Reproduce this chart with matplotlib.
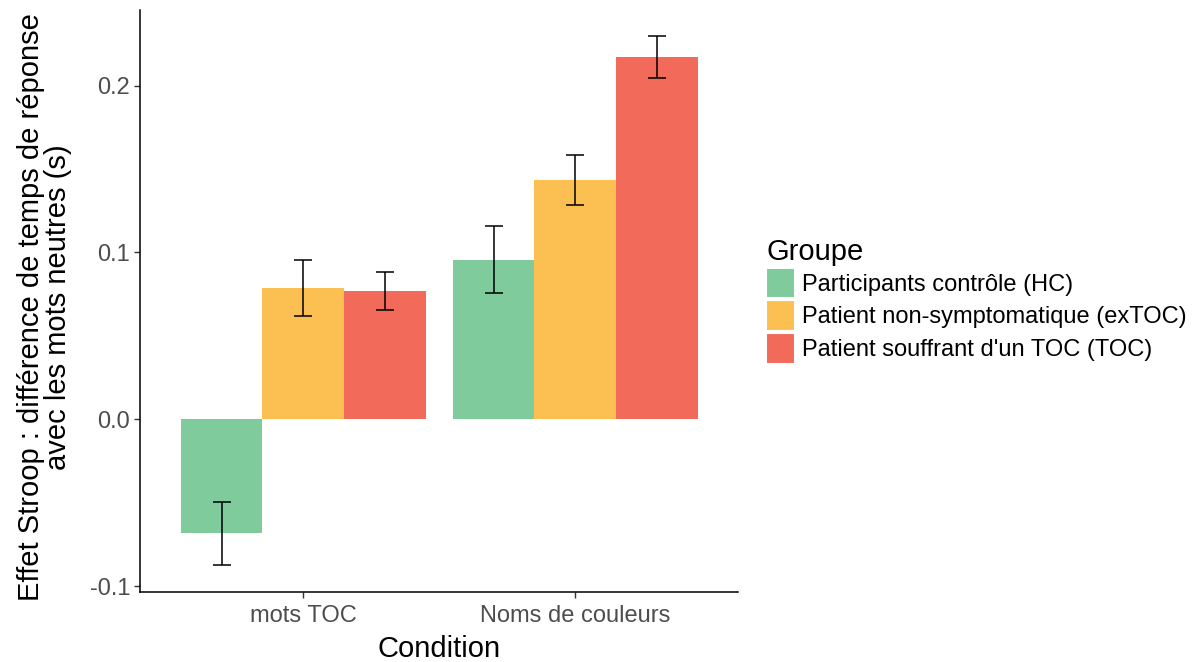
import matplotlib
matplotlib.use("Agg")
import matplotlib.pyplot as plt
import numpy as np
from matplotlib.patches import Patch

plt.rcParams['font.family'] = ['Liberation Sans', 'DejaVu Sans']
plt.rcParams['axes.unicode_minus'] = False

conditions = ["mots TOC", "Noms de couleurs"]
groups = ["Participants contrôle (HC)", "Patient non-symptomatique (exTOC)",
          "Patient souffrant d'un TOC (TOC)"]
colors = ["#80CB9C", "#FCBF52", "#F26A59"]
means = {
    "HC":    [-0.0685, 0.0957],
    "exTOC": [0.0788, 0.1437],
    "TOC":   [0.0766, 0.2172],
}
err_low = {
    "HC":    [-0.0875, 0.0757],
    "exTOC": [0.0622, 0.1287],
    "TOC":   [0.0657, 0.2047],
}
err_high = {
    "HC":    [-0.0499, 0.1156],
    "exTOC": [0.0952, 0.1587],
    "TOC":   [0.0880, 0.2296],
}
keys = ["HC", "exTOC", "TOC"]

fig = plt.figure(figsize=(11.92, 6.62), dpi=100)
ax = fig.add_axes([0.1174, 0.1057, 0.502, 0.879])

x = np.arange(1, len(conditions) + 1)
w = 0.3
for i, k in enumerate(keys):
    xs = x + (i - 1) * w
    m = np.array(means[k])
    lo = np.array(err_low[k])
    hi = np.array(err_high[k])
    ax.bar(xs, m, width=w, color=colors[i], edgecolor='none', zorder=2)
    ax.errorbar(xs, (lo + hi) / 2, yerr=(hi - lo) / 2, fmt='none', ecolor='black',
                elinewidth=1.1, capsize=6.5, capthick=1.1, zorder=3)

ax.set_xlim(0.4, 2.6)
ax.set_ylim(-0.1036, 0.2453)
ax.set_xticks(x)
ax.set_xticklabels(conditions)
ax.set_yticks([-0.1, 0.0, 0.1, 0.2])
ax.set_yticklabels(["-0.1", "0.0", "0.1", "0.2"])
ax.tick_params(axis='both', colors='#333333', labelcolor='#4D4D4D', labelsize=17,
               length=4, width=1, pad=3)
ax.tick_params(axis='x', pad=5)
for s in ['top', 'right']:
    ax.spines[s].set_visible(False)
for s in ['left', 'bottom']:
    ax.spines[s].set_linewidth(1.1)
    ax.spines[s].set_color('black')

ax.set_xlabel("Condition", fontsize=21)
ax.set_ylabel("Effet Stroop : différence de temps de réponse\navec les mots neutres (s)",
              fontsize=21, linespacing=0.95)
ax.xaxis.set_label_coords(0.5, -0.073)
ax.yaxis.set_label_coords(-0.113, 0.49)

handles = [Patch(facecolor=c, edgecolor='white', linewidth=1.5) for c in colors]
leg = fig.legend(handles, groups, loc='upper left', bbox_to_anchor=(0.643, 0.641),
                 frameon=False, title="Groupe", fontsize=17, title_fontsize=21,
                 handlelength=1.2, handleheight=1.63, handletextpad=0.3,
                 labelspacing=0.08, borderaxespad=0, borderpad=0)
leg._legend_box.align = "left"

fig.savefig("out.png", dpi=100)
